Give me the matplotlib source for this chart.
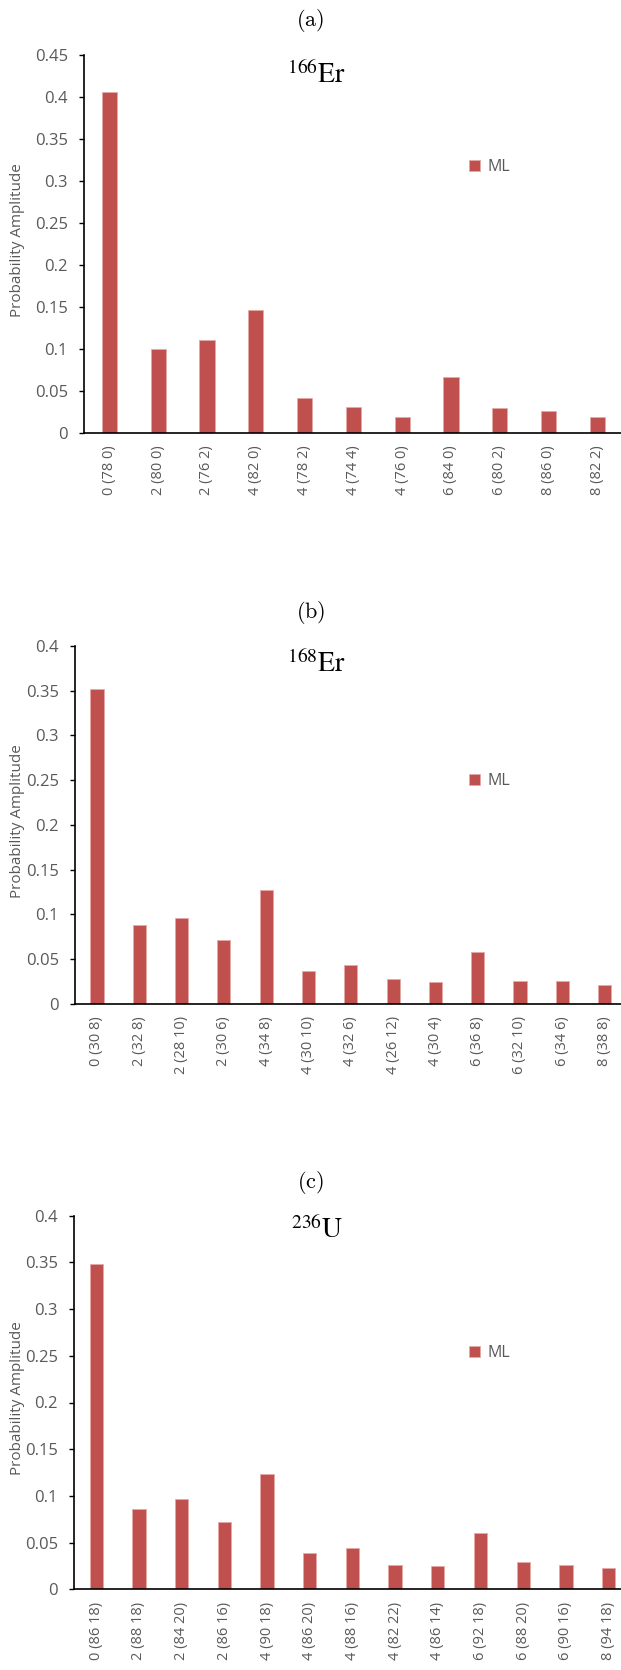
import matplotlib
matplotlib.use("Agg")
import matplotlib.pyplot as plt
from matplotlib.patches import Patch

W, H = 621, 1670

# panel (a) 166Er
a_labels = ["0 (78 0)", "2 (80 0)", "2 (76 2)", "4 (82 0)", "4 (78 2)", "4 (74 4)",
            "4 (76 0)", "6 (84 0)", "6 (80 2)", "8 (86 0)", "8 (82 2)"]
a_vals = [0.406, 0.100, 0.110, 0.146, 0.041, 0.031, 0.019, 0.066, 0.029, 0.026, 0.019]

# panel (b) 168Er
b_labels = ["0 (30 8)", "2 (32 8)", "2 (28 10)", "2 (30 6)", "4 (34 8)", "4 (30 10)",
            "4 (32 6)", "4 (26 12)", "4 (30 4)", "6 (36 8)", "6 (32 10)", "6 (34 6)", "8 (38 8)"]
b_vals = [0.352, 0.088, 0.096, 0.071, 0.127, 0.036, 0.043, 0.027, 0.024, 0.058, 0.025, 0.025, 0.021]

# panel (c) 236U
c_labels = ["0 (86 18)", "2 (88 18)", "2 (84 20)", "2 (86 16)", "4 (90 18)", "4 (86 20)",
            "4 (88 16)", "4 (82 22)", "4 (86 14)", "6 (92 18)", "6 (88 20)", "6 (90 16)", "8 (94 18)"]
c_vals = [0.348, 0.086, 0.097, 0.072, 0.123, 0.039, 0.044, 0.026, 0.025, 0.060, 0.029, 0.026, 0.023]

BAR = "#C0504D"
GREY = "#595959"

plt.rcParams['font.family'] = ['Open Sans', 'DejaVu Sans']


def fx(px):
    return px / W


def fy(py):
    return 1 - py / H


fig = plt.figure(figsize=(W / 100, H / 100), dpi=100)

panels = [
    # tag, mass, element, labels, values, ymax, axis left, top, bottom (px), category step, tag y, title y, legend y
    ("(a)", "166", "Er", a_labels, a_vals, 0.45, 84, 54.7, 432.7, 48.8, 21, 76, 167),
    ("(b)", "168", "Er", b_labels, b_vals, 0.40, 75, 646, 1003.6, 42.3, 613, 665, 781),
    ("(c)", "236", "U", c_labels, c_vals, 0.40, 74, 1215.7, 1589.3, 42.7, 1183, 1231, 1353),
]

for tag, mass, elem, labels, vals, ymax, left, top, bottom, step, tag_y, title_y, leg_y in panels:
    n = len(labels)
    ax = fig.add_axes([fx(left), fy(bottom), n * step / W, (bottom - top) / H])
    x = list(range(n))
    ax.bar(x, vals, width=0.31, color=BAR, edgecolor="#E6A9A8", linewidth=0.6, zorder=2)
    ax.set_xlim(-0.52, n - 0.52)
    ax.set_ylim(0, ymax)

    ticks = [round(i * 0.05, 2) for i in range(int(round(ymax / 0.05)) + 1)]
    ax.set_yticks(ticks)
    ax.set_yticklabels([f"{t:g}" for t in ticks])
    ax.set_xticks(x)
    ax.set_xticklabels(labels, rotation=90)

    ax.tick_params(axis='y', direction='out', length=3.6, width=1, colors='black',
                   labelcolor=GREY, labelsize=12, pad=8)
    ax.tick_params(axis='x', length=0, labelcolor=GREY, labelsize=10.5, pad=9)
    for s in ['top', 'right']:
        ax.spines[s].set_visible(False)
    for s in ['left', 'bottom']:
        ax.spines[s].set_linewidth(1.2)
        ax.spines[s].set_color('black')

    fig.text(fx(18), fy((top + bottom) / 2 - 4), "Probability Amplitude", rotation=90,
             ha='center', va='center', fontsize=11, color=GREY)

    fig.text(0.5, fy(tag_y), r"$\mathrm{" + tag + "}$", math_fontfamily='cm',
             ha='center', va='center', fontsize=16)
    fig.text(fx(317), fy(title_y), r"$^{" + mass + r"}\mathrm{" + elem + "}$",
             math_fontfamily='stix', ha='center', va='center', fontsize=20)

    ax.legend(handles=[Patch(facecolor=BAR, edgecolor="#E6A9A8", linewidth=0.6, label="ML")],
              loc='center left', bbox_to_anchor=(fx(469), fy(leg_y)),
              bbox_transform=fig.transFigure, frameon=False, fontsize=11.5,
              labelcolor=GREY, handlelength=0.7, handleheight=0.7,
              handletextpad=0.45, borderpad=0, borderaxespad=0)

fig.savefig("out.png", dpi=100)
